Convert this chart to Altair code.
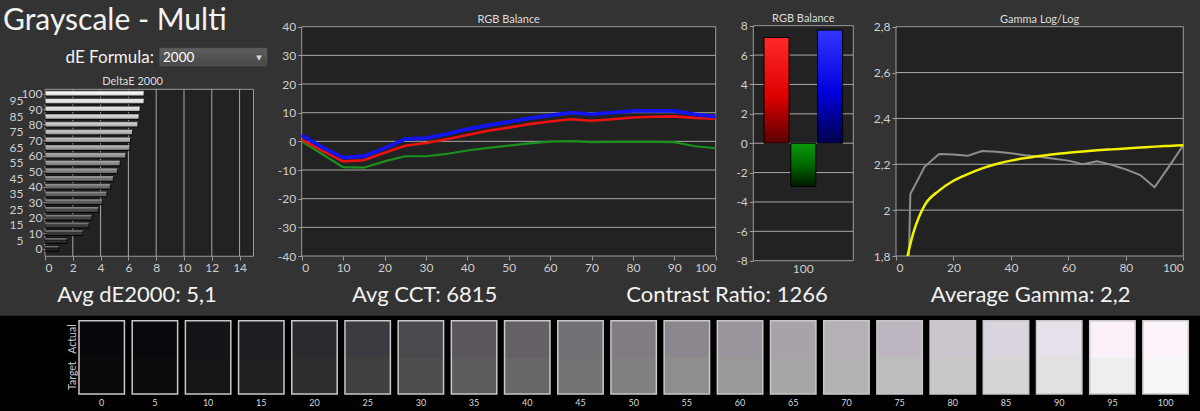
import altair as alt
import pandas as pd

FONT = "Lato"
BG = "#333333"
PLOT_BG = "#222222"
FRAME = "#9a9a9a"
GRID = "#a8a8a8"
LABEL = "#cfcfcf"
TXT = "#f2f2f2"

# ---------------- data ----------------
title_text = "Grayscale - Multi"
formula_label = "dE Formula:"
formula_value = "2000"
summary_texts = ["Avg dE2000: 5,1", "Avg CCT: 6815", "Contrast Ratio: 1266", "Average Gamma: 2,2"]

de_title = "DeltaE 2000"
de_levels = [0, 5, 10, 15, 20, 25, 30, 35, 40, 45, 50, 55, 60, 65, 70, 75, 80, 85, 90, 95, 100]
de_values = [0.98, 1.56, 2.71, 3.15, 3.36, 3.84, 4.13, 4.44, 4.70, 4.92, 5.21, 5.40, 5.81, 6.10,
             6.15, 6.29, 6.68, 6.77, 6.84, 7.13, 7.13]
de_x_ticks = [0, 2, 4, 6, 8, 10, 12, 14]
de_grid = [2, 4, 6, 8, 10, 12, 14]
de_y_even = [0, 10, 20, 30, 40, 50, 60, 70, 80, 90, 100]
de_y_odd = [5, 15, 25, 35, 45, 55, 65, 75, 85, 95]

rgb_title = "RGB Balance"
rgb_x = [0, 5, 10, 15, 20, 25, 30, 35, 40, 45, 50, 55, 60, 65, 70, 75, 80, 85, 90, 95, 100]
rgb_red = [0.6, -3.3, -7.0, -6.6, -4.0, -1.5, -0.6, 0.7, 2.2, 3.7, 4.8, 6.0, 6.9, 7.7, 7.2, 7.7,
           8.3, 8.6, 8.7, 8.2, 7.9]
rgb_green = [0.0, -4.5, -9.0, -9.2, -7.0, -5.2, -5.2, -4.4, -3.2, -2.3, -1.5, -0.7, -0.1, 0.1,
             -0.3, -0.2, -0.2, -0.2, -0.3, -1.7, -2.4]
rgb_blue = [2.2, -2.1, -5.7, -5.2, -2.4, 0.8, 1.1, 2.5, 4.3, 5.6, 6.8, 8.0, 9.1, 10.0, 9.4, 10.0,
            10.6, 10.6, 10.6, 9.4, 8.6]
rgb_x_ticks = [0, 10, 20, 30, 40, 50, 60, 70, 80, 90, 100]
rgb_y_ticks = [-40, -30, -20, -10, 0, 10, 20, 30, 40]
rgb_grid = [-30, -20, -10, 0, 10, 20, 30]

bar_level = "100"
bar_channels = ["R", "G", "B"]
bar_values = [7.2, -2.95, 7.7]
bar_y_ticks = [-8, -6, -4, -2, 0, 2, 4, 6, 8]
bar_grid = [-6, -4, -2, 0, 2, 4, 6]

gm_title = "Gamma Log/Log"
gm_meas_x = [4.5, 5, 10, 15, 20, 25, 30, 35, 40, 45, 50, 55, 60, 65, 70, 75, 80, 85, 90, 95, 100]
gm_meas = [1.80, 2.07, 2.19, 2.245, 2.243, 2.237, 2.258, 2.255, 2.248, 2.239, 2.233, 2.224, 2.216,
           2.200, 2.213, 2.198, 2.178, 2.153, 2.100, 2.190, 2.283]
gm_tgt_x = [4, 6, 8, 10, 15, 20, 25, 30, 35, 40, 45, 50, 55, 60, 65, 70, 75, 80, 85, 90, 95, 100]
gm_tgt = [1.80, 1.90, 1.97, 2.022, 2.085, 2.128, 2.157, 2.182, 2.201, 2.216, 2.227, 2.236, 2.244,
          2.250, 2.256, 2.261, 2.265, 2.269, 2.273, 2.277, 2.280, 2.283]
gm_x_ticks = [0, 20, 40, 60, 80, 100]
gm_y_ticks = [1.8, 2.0, 2.2, 2.4, 2.6, 2.8]
gm_grid = [2.0, 2.2, 2.4, 2.6]

sw_levels = [0, 5, 10, 15, 20, 25, 30, 35, 40, 45, 50, 55, 60, 65, 70, 75, 80, 85, 90, 95, 100]
sw_actual = ["#06060b", "#09090d", "#141418", "#1e1d22", "#2b2a2f", "#3d3b41", "#4b484e",
             "#5a565c", "#656066", "#727074", "#807c82", "#8c878e", "#9a959c", "#a8a2a9",
             "#b5afb6", "#bdb6c0", "#cbc5ce", "#dad4de", "#e6e1eb", "#fbeffa", "#fdf5fb"]
sw_target = ["#0a0a0a", "#0c0c0c", "#151515", "#202020", "#2e2e2e", "#404040", "#4e4e4e",
             "#5c5c5c", "#676767", "#737373", "#808080", "#8e8e8e", "#999999", "#a6a6a6",
             "#b2b2b2", "#bdbdbd", "#c9c9c9", "#d6d6d6", "#e1e1e1", "#eeeeee", "#f7f7f7"]
sw_row_labels = ["Actual", "Target"]

# ---------------- layout (pixels) ----------------
H = 411
DE_XR, DE_YR = [45, 253.5], [248.5, 93.5]
RL_XR, RL_YR = [301.7, 715.7], [256, 26.7]
RB_XR, RB_YR = [753.3, 853.3], [260.7, 25.7]
GM_XR, GM_YR = [896, 1183.3], [256, 26.7]
SW_XR, SW_YR = [79, 1188.3], [394, 320.7]

ONE = pd.DataFrame({"k": [0]})


def axis(orient, offset, values=None, **kw):
    opts = dict(orient=orient, offset=offset, title=None, grid=False, domain=False, zindex=1,
                labelFont=FONT, labelFontSize=12, labelColor=LABEL, tickColor=FRAME,
                tickSize=4, labelPadding=2)
    if values is not None:
        opts["values"] = values
    opts.update(kw)
    return alt.Axis(**opts)


def qscale(domain, rng):
    return alt.Scale(domain=domain, range=rng, nice=False, zero=False)


def vgrad(c0, c1, mid=None):
    stops = [alt.GradientStop(color=c0, offset=0)]
    if mid is not None:
        stops.append(alt.GradientStop(color=mid[0], offset=mid[1]))
    stops.append(alt.GradientStop(color=c1, offset=1))
    return alt.LinearGradient(gradient="linear", stops=stops, x1=0, x2=0, y1=0, y2=1)


def qd(v, scale, ch="x", ax=None):
    cls = alt.XDatum if ch == "x" else alt.YDatum
    if ax is None:
        return cls(v, type="quantitative", scale=scale, axis=None)
    return cls(v, type="quantitative", scale=scale, axis=ax)


def panel_title(text, x_enc, y_enc, data=ONE):
    return alt.Chart(data).mark_text(text=text, font=FONT, fontSize=11, color="#dddddd",
                                     baseline="alphabetic", dy=-4).encode(x=x_enc, y=y_enc)


layers = []

# ---------------- page background strip ----------------
layers.append(alt.Chart(ONE).mark_rect(color="#000000").encode(
    x=alt.value(0), x2=alt.value(1200), y=alt.value(315.7), y2=alt.value(H)))

# ---------------- DeltaE panel ----------------
dxs = qscale([0, 15], DE_XR)
dys = qscale([0, 100], DE_YR)
de_df = pd.DataFrame({"level": de_levels, "de": de_values})
DE_Y0, DE_Y1 = -5, 102.7

layers.append(alt.Chart(ONE).mark_rect(fill=PLOT_BG, stroke=FRAME, strokeWidth=1).encode(
    x=qd(0, dxs, "x", axis("bottom", RL_YR[0] - H, de_x_ticks)),
    x2=alt.X2Datum(15),
    y=qd(DE_Y0, dys, "y", axis("left", -DE_XR[0], de_y_even, tickSize=2, labelPadding=1,
                               labelExpr="'' + datum.value")),
    y2=alt.Y2Datum(DE_Y1),
))
layers.append(alt.Chart(pd.DataFrame({"g": de_grid})).mark_rule(color=GRID, strokeWidth=1).encode(
    x=alt.X("g:Q", scale=dxs, axis=None),
    y=qd(DE_Y0, dys, "y"),
    y2=alt.Y2Datum(DE_Y1),
))
de_base = alt.Chart(de_df).transform_calculate(lo="datum.level - 1.7", hi="datum.level + 1.7")
layers.append(de_base.mark_rect(stroke="#000000", strokeWidth=1).encode(
    x=alt.X("de:Q", scale=dxs, axis=None),
    x2=alt.X2Datum(0),
    y=alt.Y("lo:Q", scale=dys, axis=None),
    y2=alt.Y2("hi:Q"),
    color=alt.Color("level:Q", scale=alt.Scale(domain=[0, 100], range=["#080808", "#f2f2f2"]),
                    legend=None),
))
layers.append(de_base.mark_rect(
    fill=vgrad("rgba(255,255,255,0.55)", "rgba(0,0,0,0.45)", ("rgba(255,255,255,0.05)", 0.45))
).encode(
    x=alt.X("de:Q", scale=dxs, axis=None),
    x2=alt.X2Datum(0),
    y=alt.Y("lo:Q", scale=dys, axis=None),
    y2=alt.Y2("hi:Q"),
))
layers.append(alt.Chart(pd.DataFrame({"level": de_y_odd})).mark_text(
    align="right", baseline="middle", font=FONT, fontSize=12, color=LABEL
).encode(
    x=qd(-1.55, dxs, "x"),
    y=alt.Y("level:Q", scale=dys, axis=None),
    text="level:Q",
))
layers.append(panel_title(de_title, qd(6.3, dxs, "x"), qd(DE_Y1, dys, "y")))

# ---------------- RGB balance lines ----------------
rxs = qscale([0, 100], RL_XR)
rys = qscale([-40, 40], RL_YR)
rl_df = pd.DataFrame({"x": rgb_x, "r": rgb_red, "g": rgb_green, "b": rgb_blue})

layers.append(alt.Chart(ONE).mark_rect(fill=PLOT_BG, stroke=FRAME, strokeWidth=1).encode(
    x=qd(0, rxs, "x", axis("bottom", RL_YR[0] - H, rgb_x_ticks)),
    x2=alt.X2Datum(100),
    y=qd(-40, rys, "y", axis("left", -RL_XR[0], rgb_y_ticks, labelExpr="'' + datum.value")),
    y2=alt.Y2Datum(40),
))
layers.append(alt.Chart(pd.DataFrame({"g": rgb_grid})).mark_rule(color=GRID, strokeWidth=1).encode(
    y=alt.Y("g:Q", scale=rys, axis=None),
    x=qd(0, rxs, "x"),
    x2=alt.X2Datum(100),
))
for col, colr, w in [("g", "#1c901c", 2.2), ("r", "#ee1111", 2.6), ("b", "#1414ee", 3.8)]:
    layers.append(alt.Chart(rl_df).mark_line(color=colr, strokeWidth=w).encode(
        x=alt.X("x:Q", scale=rxs, axis=None), y=alt.Y(f"{col}:Q", scale=rys, axis=None)))
layers.append(panel_title(rgb_title, qd(50, rxs, "x"), qd(40, rys, "y")))

# ---------------- RGB balance bars ----------------
bxs = alt.Scale(domain=bar_channels, range=RB_XR, paddingInner=0.064, paddingOuter=0.4)
bys = qscale([-8, 8], RB_YR)
rb_df = pd.DataFrame({"ch": bar_channels, "v": bar_values})

layers.append(alt.Chart(ONE).mark_rect(fill=PLOT_BG, stroke=FRAME, strokeWidth=1).encode(
    x=alt.value(RB_XR[0]), x2=alt.value(RB_XR[1]),
    y=qd(-8, bys, "y", axis("left", -RB_XR[0], bar_y_ticks, labelExpr="'' + datum.value")),
    y2=alt.Y2Datum(8),
))
layers.append(alt.Chart(pd.DataFrame({"g": bar_grid})).mark_rule(color=GRID, strokeWidth=1).encode(
    x=alt.value(RB_XR[0]), x2=alt.value(RB_XR[1]),
    y=alt.Y("g:Q", scale=bys, axis=None),
))
bar_grads = {
    "R": vgrad("#ff2a2a", "#5a0000", ("#e00000", 0.55)),
    "G": vgrad("#0a9a0a", "#001800", ("#006800", 0.5)),
    "B": vgrad("#3434ff", "#00004a", ("#0000dd", 0.55)),
}
for i, ch in enumerate(bar_channels):
    if i == 0:
        xax = axis("bottom", RB_YR[0] - H, tickSize=0, labelPadding=3, labelAngle=0,
                   labelExpr=f"datum.value == 'G' ? '{bar_level}' : ''")
    else:
        xax = None
    layers.append(
        alt.Chart(rb_df).transform_filter(alt.datum.ch == ch).mark_bar(
            fill=bar_grads[ch], stroke="#000000", strokeWidth=1
        ).encode(
            x=alt.X("ch:N", scale=bxs, axis=xax),
            y=alt.Y("v:Q", scale=bys, axis=None),
        )
    )
layers.append(panel_title(rgb_title, alt.X("ch:N", scale=bxs, axis=None), qd(8, bys, "y"),
                          data=pd.DataFrame({"ch": ["G"]})))

# ---------------- Gamma panel ----------------
gxs = qscale([0, 100], GM_XR)
gys = qscale([1.8, 2.8], GM_YR)
layers.append(alt.Chart(ONE).mark_rect(fill=PLOT_BG, stroke=FRAME, strokeWidth=1).encode(
    x=qd(0, gxs, "x", axis("bottom", GM_YR[0] - H, gm_x_ticks)),
    x2=alt.X2Datum(100),
    y=qd(1.8, gys, "y", axis("left", -GM_XR[0], gm_y_ticks,
                             labelExpr="replace('' + datum.value, '.', ',')")),
    y2=alt.Y2Datum(2.8),
))
layers.append(alt.Chart(pd.DataFrame({"g": gm_grid})).mark_rule(color=GRID, strokeWidth=1).encode(
    y=alt.Y("g:Q", scale=gys, axis=None),
    x=qd(0, gxs, "x"),
    x2=alt.X2Datum(100),
))
layers.append(alt.Chart(pd.DataFrame({"x": gm_meas_x, "v": gm_meas})).mark_line(
    color="#8e8e8e", strokeWidth=2).encode(
    x=alt.X("x:Q", scale=gxs, axis=None), y=alt.Y("v:Q", scale=gys, axis=None)))
layers.append(alt.Chart(pd.DataFrame({"x": gm_tgt_x, "v": gm_tgt})).mark_line(
    color="#f2f200", strokeWidth=2.5, interpolate="monotone").encode(
    x=alt.X("x:Q", scale=gxs, axis=None), y=alt.Y("v:Q", scale=gys, axis=None)))
layers.append(panel_title(gm_title, qd(50, gxs, "x"), qd(2.8, gys, "y")))

# ---------------- swatches ----------------
sxs = alt.Scale(domain=sw_levels, range=SW_XR, paddingInner=0.146, paddingOuter=0)
sys_ = qscale([0, 2], SW_YR)
sw_df = pd.DataFrame({"level": sw_levels, "actual": sw_actual, "target": sw_target})
# target colour fills the whole swatch, the actual colour covers its upper half
layers.append(alt.Chart(sw_df).mark_rect().encode(
    x=alt.X("level:O", scale=sxs,
            axis=axis("bottom", SW_YR[0] - H, tickSize=0, labelPadding=4, labelFontSize=9,
                      labelAngle=0, labelColor="#d8d8d8")),
    y=qd(0, sys_, "y"),
    y2=alt.Y2Datum(2),
    color=alt.Color("target:N", scale=None),
))
layers.append(alt.Chart(sw_df).mark_rect().encode(
    x=alt.X("level:O", scale=sxs, axis=None),
    y=qd(1, sys_, "y"),
    y2=alt.Y2Datum(2),
    color=alt.Color("actual:N", scale=None),
))
layers.append(alt.Chart(sw_df).mark_rect(fillOpacity=0, stroke="#c8c8c8", strokeWidth=1.5).encode(
    x=alt.X("level:O", scale=sxs, axis=None),
    y=qd(0, sys_, "y"),
    y2=alt.Y2Datum(2),
))
layers.append(alt.Chart(pd.DataFrame({"lab": sw_row_labels, "pos": [1.5, 0.5]})).mark_text(
    angle=270, font=FONT, fontSize=10.5, color="#cccccc", align="center", baseline="middle"
).encode(x=alt.value(72.5), y=alt.Y("pos:Q", scale=sys_, axis=None), text="lab:N"))

# ---------------- page decorations ----------------
layers.append(alt.Chart(ONE).mark_text(text=title_text, font=FONT, fontSize=30, color=TXT,
                                       align="left", baseline="alphabetic").encode(
    x=alt.value(3), y=alt.value(29.5)))
layers.append(alt.Chart(ONE).mark_text(text=formula_label, font=FONT, fontSize=17, color=TXT,
                                       align="right", baseline="alphabetic").encode(
    x=alt.value(154), y=alt.value(63)))
layers.append(alt.Chart(ONE).mark_rect(fill=vgrad("#5e5e5e", "#474747"), stroke="#5a5a5a").encode(
    x=alt.value(160), x2=alt.value(266.7), y=alt.value(48.3), y2=alt.value(65.7)))
layers.append(alt.Chart(ONE).mark_text(text=formula_value, font=FONT, fontSize=13.5,
                                       color="#ffffff", align="left",
                                       baseline="alphabetic").encode(
    x=alt.value(163), y=alt.value(62)))
layers.append(alt.Chart(ONE).mark_text(text="\u25BC", font="DejaVu Sans", fontSize=7,
                                       color="#dddddd", align="center",
                                       baseline="middle").encode(
    x=alt.value(259), y=alt.value(57.5)))
SUM_X = [137, 424.7, 727, 1030.7]
for t, px in zip(summary_texts, SUM_X):
    layers.append(alt.Chart(ONE).mark_text(text=t, font=FONT, fontSize=22, color=TXT,
                                           align="center", baseline="alphabetic").encode(
        x=alt.value(px), y=alt.value(302)))

chart = alt.layer(*layers).resolve_scale(
    x="independent", y="independent", color="independent"
).properties(
    width=1200, height=H, padding=0, autosize=alt.AutoSizeParams(type="none"), background=BG
).configure_view(stroke=None)

chart.save("out.html", embed_options={"renderer": "svg", "actions": False})
